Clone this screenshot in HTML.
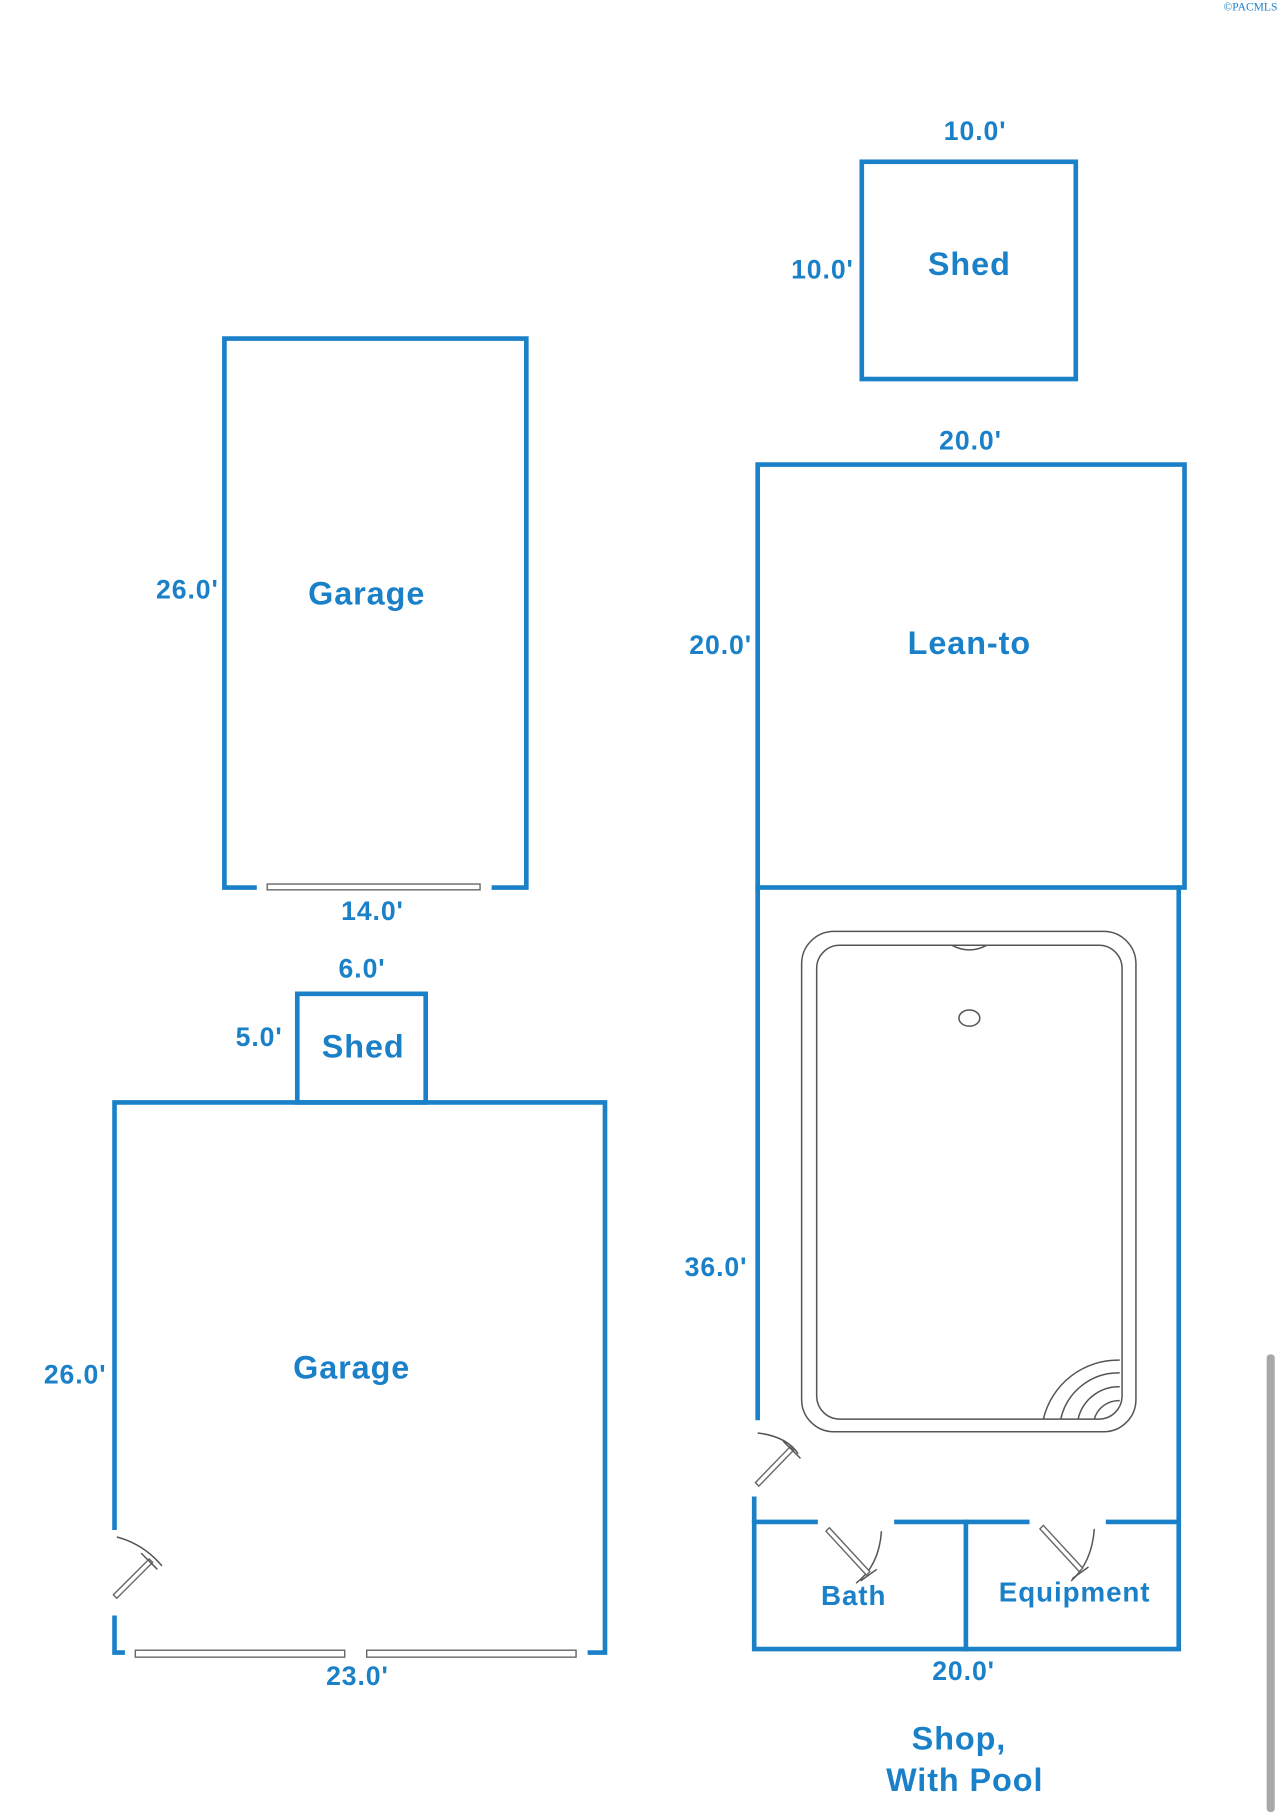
<!DOCTYPE html>
<html><head><meta charset="utf-8"><style>
html,body{margin:0;padding:0;background:#fff;}
svg{display:block;}
text{font-family:"Liberation Sans",Arial,sans-serif;font-weight:bold;fill:#1a80c8;text-anchor:middle;letter-spacing:0.8px;}
.w{stroke:#1a80c8;stroke-width:4;fill:none;stroke-linecap:square;}
.g{stroke:#555;stroke-width:1.3;fill:none;}
.d{stroke:#666;stroke-width:1.2;fill:#fff;}
</style></head><body>
<svg width="1284" height="1812" viewBox="0 0 1110 1568" preserveAspectRatio="none">
<rect width="1110" height="1568" fill="#fff"/>
<text x="1081" y="9" style="font-family:'Liberation Serif',serif;font-weight:normal;font-size:10px;letter-spacing:0">©PACMLS</text>
<rect x="1095" y="1172" width="7" height="396" rx="3" fill="#a8a8a8"/>

<rect class="w" x="745" y="140" width="185" height="188"/>
<text x="843" y="121" font-size="23">10.0'</text>
<text x="711" y="241" font-size="23">10.0'</text>
<text x="838" y="238" font-size="28">Shed</text>

<path class="w" d="M220 768 H194 V293 H455 V768 H427"/>
<rect class="d" x="231" y="765" width="184" height="5"/>
<text x="162" y="518" font-size="23">26.0'</text>
<text x="317" y="523" font-size="28">Garage</text>
<text x="322" y="796" font-size="23">14.0'</text>

<rect class="w" x="655" y="402" width="369" height="366"/>
<text x="839" y="389" font-size="23">20.0'</text>
<text x="623" y="566" font-size="23">20.0'</text>
<text x="838" y="566" font-size="28">Lean-to</text>

<path class="w" d="M655 768 V1227"/>
<path class="w" d="M652 1297 V1427 H1019 V768"/>
<path class="w" d="M652 1317 H705 M775 1317 H888 M958 1317 H1019"/>
<path class="w" d="M835 1317 V1427"/>
<text x="619" y="1104" font-size="23">36.0'</text>
<text x="738" y="1389" font-size="24">Bath</text>
<text x="929" y="1386" font-size="24">Equipment</text>
<text x="833" y="1454" font-size="23">20.0'</text>
<text x="829" y="1514" font-size="28">Shop,</text>
<text x="834" y="1550" font-size="28">With Pool</text>
<path class="g" d="M655 1240 Q680 1243 690 1258"/>
<path class="d" d="M653 1283 L683 1252 L686 1255 L656 1286 Z"/>
<path class="g" d="M677 1247 L692 1262"/>
<path class="g" d="M762 1325 Q760 1355 740 1370"/>
<path class="d" d="M717 1322 L752 1360 L749 1363 L714 1325 Z"/>
<path class="g" d="M744 1368 L758 1358"/>
<path class="g" d="M946 1323 Q944 1352 926 1368"/>
<path class="d" d="M902 1320 L936 1357 L933 1360 L899 1323 Z"/>
<path class="g" d="M927 1366 L941 1356"/>

<rect class="g" x="693" y="806" width="289" height="433" rx="28"/>
<rect class="g" x="706" y="818" width="264" height="410" rx="20"/>
<path class="g" d="M823 818 Q838 826 853 818"/>
<ellipse class="g" cx="838" cy="881" rx="9" ry="7"/>
<path class="g" d="M902 1228 A66 66 0 0 1 968 1177 M917 1228 A51 51 0 0 1 968 1188 M932 1228 A36 36 0 0 1 968 1200 M946 1228 A22 22 0 0 1 968 1212"/>

<rect class="w" x="257" y="860" width="111" height="94"/>
<text x="313" y="846" font-size="23">6.0'</text>
<text x="224" y="905" font-size="23">5.0'</text>
<text x="314" y="915" font-size="28">Shed</text>

<path class="w" d="M99 1322 V954 H523 V1430 H510"/>
<path class="w" d="M99 1400 V1430 H106"/>
<rect class="d" x="117" y="1428" width="181" height="6"/>
<rect class="d" x="317" y="1428" width="181" height="6"/>
<path class="g" d="M101 1330 Q124 1336 140 1355"/>
<path class="d" d="M98 1380 L129 1349 L132 1352 L101 1383 Z"/>
<path class="g" d="M122 1344 L136 1358"/>
<text x="65" y="1197" font-size="23">26.0'</text>
<text x="304" y="1193" font-size="28">Garage</text>
<text x="309" y="1458" font-size="23">23.0'</text>
</svg>
</body></html>
